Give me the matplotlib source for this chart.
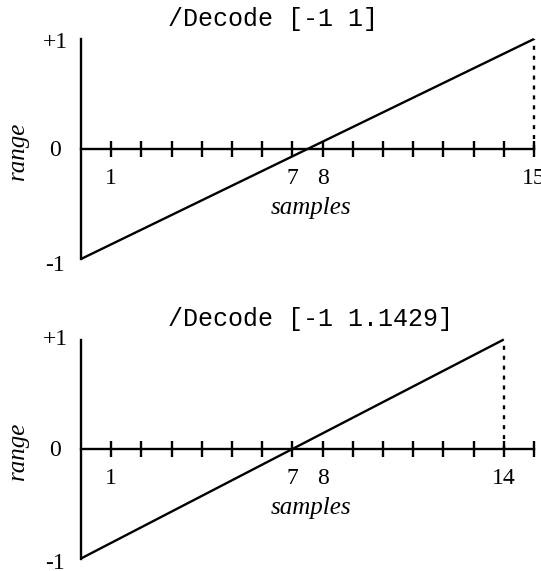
import matplotlib
matplotlib.use("Agg")
import matplotlib.pyplot as plt

# ---- data ----
titles = ["/Decode [-1 1]", "/Decode [-1 1.1429]"]
line_x = [[0, 15], [0, 14]]
line_y = [[-1, 1], [-1, 1]]
dotted_x = [15, 14]
dotted_y = [0, 1]
tick_positions = list(range(1, 16))
labeled_ticks = [[1, 7, 8, 15], [1, 7, 8, 14]]
y_values = [1, 0, -1]
y_labels = ["+1", "0", "-1"]
xlabel = "samples"
ylabel = "range"

W, H = 541, 571
DPI = 100
fig = plt.figure(figsize=(W / DPI, H / DPI), dpi=DPI)

x0_px = 81.0       # x pixel of sample 0
px_per_sample = 30.2
panels = [  # (top px, bottom px, zero-line px, px per unit)
    (0, 285, 149.0, 110.0),
    (285, 571, 449.0, 109.5),
]

serif = "Liberation Serif"
mono = "Liberation Mono"
lw = 1.7

for i, (ptop, pbot, zero_px, ppu) in enumerate(panels):
    ax = fig.add_axes([0, 1 - pbot / H, 1, (pbot - ptop) / H])
    ax.set_xlim(-x0_px / px_per_sample, (W - x0_px) / px_per_sample)
    ax.set_ylim((zero_px - pbot) / ppu, (zero_px - ptop) / ppu)
    ax.patch.set_alpha(0)

    for s in ["top", "right"]:
        ax.spines[s].set_visible(False)
    ax.spines["left"].set_position(("data", 0))
    ax.spines["bottom"].set_position(("data", 0))
    ax.spines["left"].set_bounds(-1, 1)
    ax.spines["bottom"].set_bounds(0, 15)
    ax.spines["left"].set_linewidth(lw)
    ax.spines["bottom"].set_linewidth(lw)

    ax.set_xticks(tick_positions)
    ax.set_xticklabels([str(t) if t in labeled_ticks[i] else "" for t in tick_positions],
                       fontfamily=serif, fontsize=17)
    ax.tick_params(axis="x", direction="inout", length=12, width=lw, pad=8)
    ax.set_yticks([])

    ax.plot(line_x[i], line_y[i], color="black", lw=lw, solid_capstyle="butt")
    ax.plot([dotted_x[i], dotted_x[i]], dotted_y, color="black", lw=lw,
            linestyle=(0, (1.7, 2.5)))

    # y value labels
    xl = (55 - x0_px) / px_per_sample
    for v, lab in zip(y_values, y_labels):
        off = {1: -0.03 if i == 0 else 0.0, 0: -0.01, -1: -0.06 if i == 0 else -0.045}[v]
        ax.text(xl, v + off, lab, fontfamily=serif, fontsize=17,
                ha="center", va="center")

    # axis titles
    ax.text(7.6, -59 / ppu, xlabel, fontfamily=serif, fontstyle="italic",
            fontsize=18, ha="center", va="center")
    ax.text((18 - x0_px) / px_per_sample, -0.02, ylabel, fontfamily=serif,
            fontstyle="italic", fontsize=18, rotation=90, ha="center", va="center")

    ax.text((168 - x0_px) / px_per_sample, 130 / ppu, titles[i], fontfamily=mono,
            fontsize=18, ha="left", va="center")

fig.savefig("out.png", dpi=DPI)
